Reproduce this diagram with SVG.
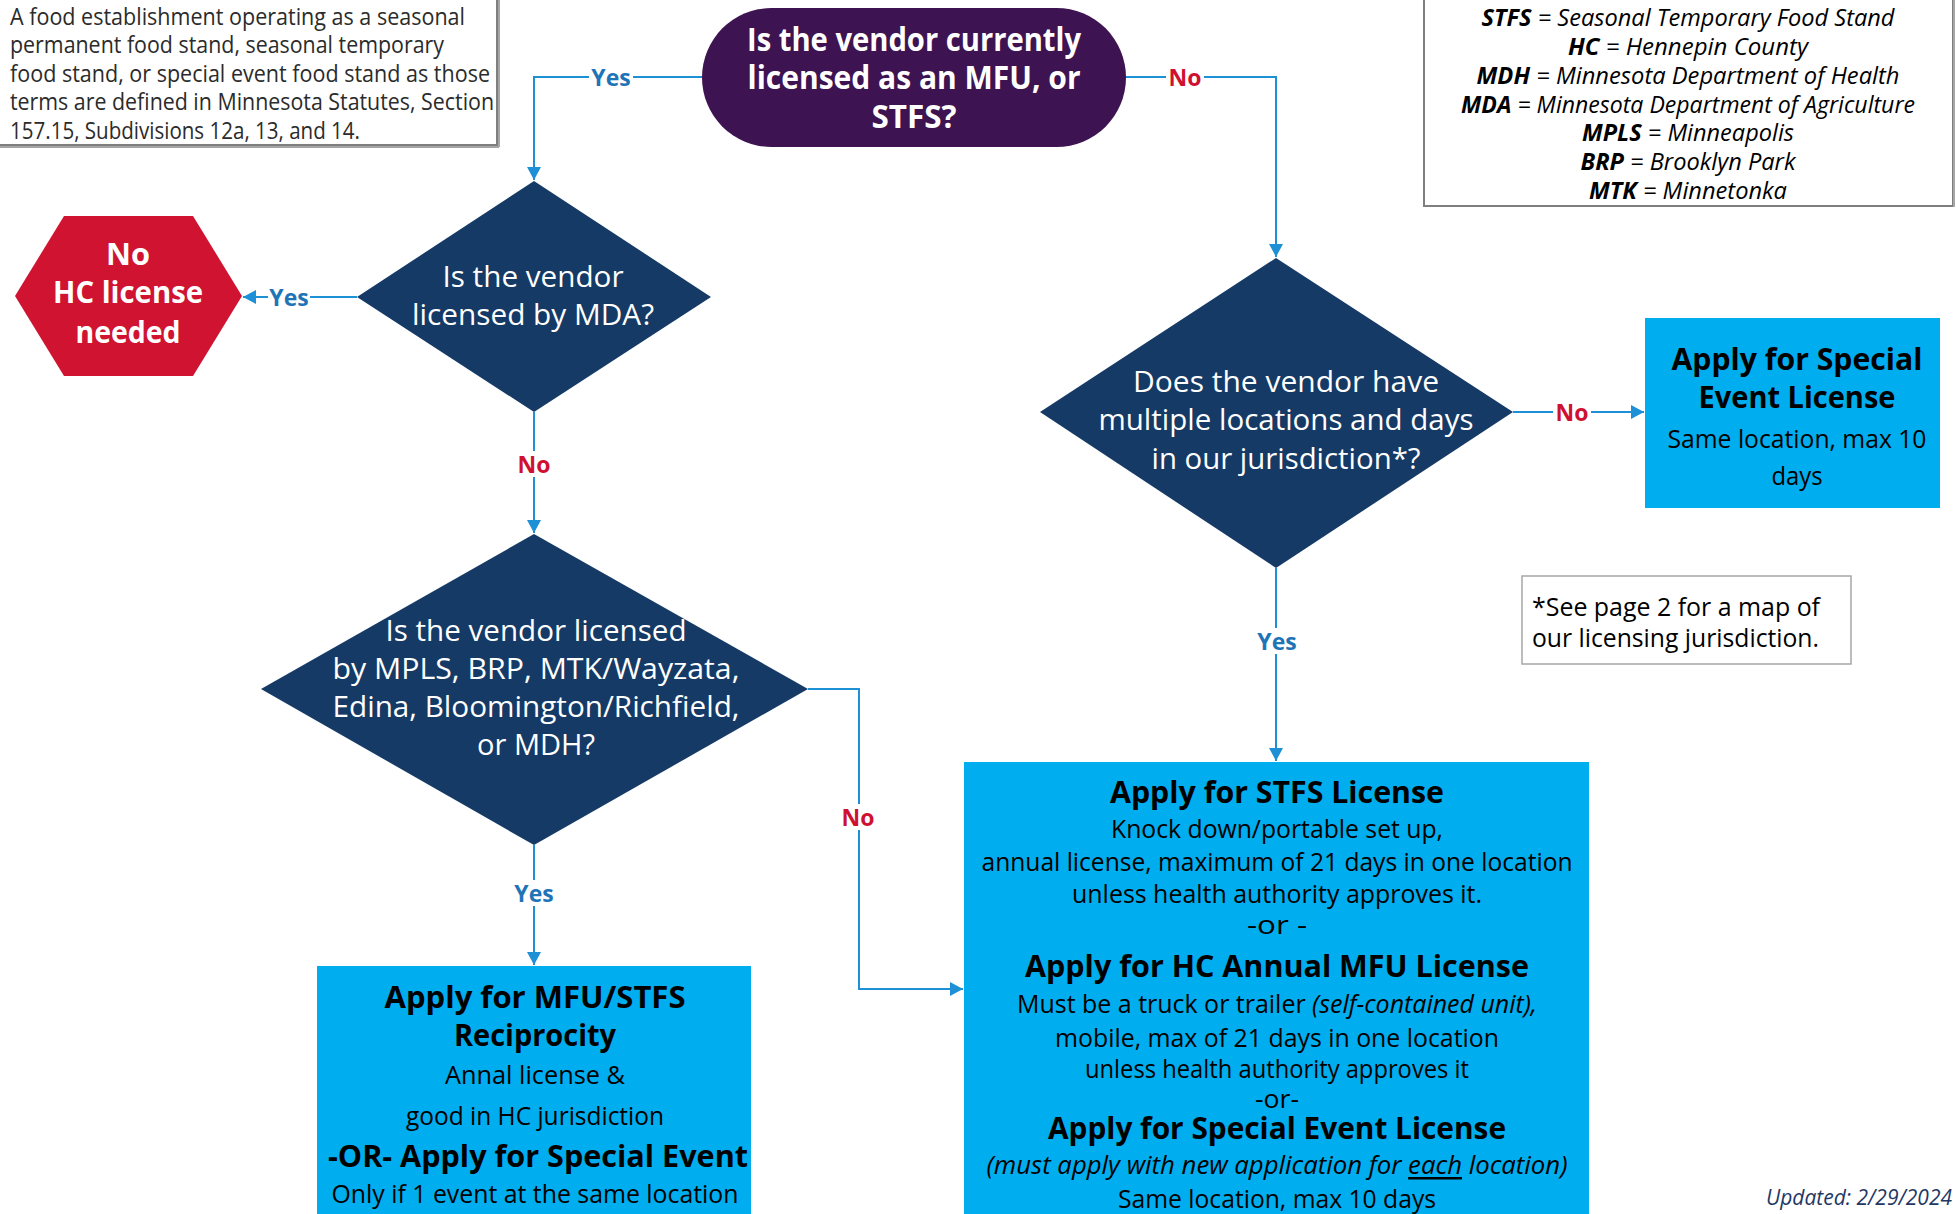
<svg xmlns="http://www.w3.org/2000/svg" width="1956" height="1214" viewBox="0 0 1956 1214">
<defs>
<marker id="ah" markerUnits="userSpaceOnUse" markerWidth="14" markerHeight="14" refX="13" refY="7" orient="auto">
<path d="M0,0 L13,7 L0,14 z" fill="#1e90d5"/>
</marker>
<style>
text{font-family:"Open Sans","Noto Sans","Liberation Sans",sans-serif;dominant-baseline:central}
.note{font-size:24px;fill:#2b2b2b}
.pill{font-size:32px;font-weight:700;fill:#fff;text-anchor:middle}
.dq{font-size:30px;fill:#fff;text-anchor:middle}
.hx{font-size:31px;font-weight:700;fill:#fff;text-anchor:middle}
.bt{font-size:31px;font-weight:700;fill:#000;text-anchor:middle}
.bb{font-size:25px;fill:#000;text-anchor:middle}
.lg{font-size:23px;font-style:italic;fill:#000;text-anchor:middle}
.lg .ab{font-weight:700}
.fn{font-size:25px;fill:#000}
.yes{font-size:23px;font-weight:700;fill:#1f74b8;text-anchor:middle}
.no{font-size:23px;font-weight:700;fill:#cf1030;text-anchor:middle}
.conn path{fill:none;stroke:#1e90d5;stroke-width:2;marker-end:url(#ah)}
.lblbg{fill:#fff}
.diamond{fill:#153a66}
.box{fill:#00adee}
</style>
</defs>
<rect x="0" y="0" width="1956" height="1214" fill="#fff"/>

<!-- note box -->
<g id="note">
<rect x="-3" y="-3" width="500" height="148" fill="#fff" stroke="#7f7f7f" stroke-width="2"/>
<line x1="499" y1="0" x2="499" y2="147" stroke="#a6a6a6" stroke-width="2"/>
<line x1="0" y1="147" x2="499" y2="147" stroke="#a6a6a6" stroke-width="2"/>
<text class="note" x="10" y="15" textLength="455" lengthAdjust="spacingAndGlyphs">A food establishment operating as a seasonal</text>
<text class="note" x="10" y="43.5" textLength="434" lengthAdjust="spacingAndGlyphs">permanent food stand, seasonal temporary</text>
<text class="note" x="10" y="72" textLength="480" lengthAdjust="spacingAndGlyphs">food stand, or special event food stand as those</text>
<text class="note" x="10" y="100.5" textLength="484" lengthAdjust="spacingAndGlyphs">terms are defined in Minnesota Statutes, Section</text>
<text class="note" x="10" y="129" textLength="350" lengthAdjust="spacingAndGlyphs">157.15, Subdivisions 12a, 13, and 14.</text>
</g>

<!-- legend -->
<g id="legend">
<rect x="1424" y="-3" width="529" height="209" fill="#fff" stroke="#7f7f7f" stroke-width="2"/>
<line x1="1954" y1="0" x2="1954" y2="207" stroke="#a6a6a6" stroke-width="2"/>
<text class="lg" x="1688" y="17" textLength="413" lengthAdjust="spacingAndGlyphs"><tspan class="ab">STFS</tspan> = Seasonal Temporary Food Stand</text>
<text class="lg" x="1688" y="46" textLength="240" lengthAdjust="spacingAndGlyphs"><tspan class="ab">HC</tspan> = Hennepin County</text>
<text class="lg" x="1688" y="75" textLength="423" lengthAdjust="spacingAndGlyphs"><tspan class="ab">MDH</tspan> = Minnesota Department of Health</text>
<text class="lg" x="1688" y="104" textLength="454" lengthAdjust="spacingAndGlyphs"><tspan class="ab">MDA</tspan> = Minnesota Department of Agriculture</text>
<text class="lg" x="1688" y="132" textLength="212" lengthAdjust="spacingAndGlyphs"><tspan class="ab">MPLS</tspan> = Minneapolis</text>
<text class="lg" x="1688" y="161" textLength="215" lengthAdjust="spacingAndGlyphs"><tspan class="ab">BRP</tspan> = Brooklyn Park</text>
<text class="lg" x="1688" y="190" textLength="198" lengthAdjust="spacingAndGlyphs"><tspan class="ab">MTK</tspan> = Minnetonka</text>
</g>

<!-- connectors -->
<g id="connectors" class="conn">
<path d="M702,77 H534 V180"/>
<path d="M1126,77 H1276 V257"/>
<path d="M357,297 H243"/>
<path d="M534,412 V533"/>
<path d="M808,689 H859 V989 H963"/>
<path d="M534,845 V965"/>
<path d="M1513,412 H1644"/>
<path d="M1276,568 V761"/>
</g>

<!-- connector labels -->
<g id="labels">
<rect class="lblbg" x="589" y="64" width="44" height="26"/>
<text class="yes" x="611" y="77">Yes</text>
<rect class="lblbg" x="1166" y="64" width="38" height="26"/>
<text class="no" x="1185" y="77">No</text>
<rect class="lblbg" x="268" y="284" width="42" height="26"/>
<text class="yes" x="289" y="297">Yes</text>
<rect class="lblbg" x="515" y="451" width="38" height="26"/>
<text class="no" x="534" y="464">No</text>
<rect class="lblbg" x="839" y="804" width="38" height="26"/>
<text class="no" x="858" y="817">No</text>
<rect class="lblbg" x="512" y="880" width="44" height="26"/>
<text class="yes" x="534" y="893">Yes</text>
<rect class="lblbg" x="1553" y="399" width="38" height="26"/>
<text class="no" x="1572" y="412">No</text>
<rect class="lblbg" x="1255" y="628" width="44" height="26"/>
<text class="yes" x="1277" y="641">Yes</text>
</g>

<!-- start pill -->
<g id="start">
<rect x="702" y="8" width="424" height="139" rx="69.5" ry="69.5" fill="#3d1451"/>
<text class="pill" x="914" y="38" textLength="334" lengthAdjust="spacingAndGlyphs">Is the vendor currently</text>
<text class="pill" x="914" y="76.5" textLength="333" lengthAdjust="spacingAndGlyphs">licensed as an MFU, or</text>
<text class="pill" x="914" y="115" textLength="85" lengthAdjust="spacingAndGlyphs">STFS?</text>
</g>

<!-- diamond MDA -->
<g id="q-mda">
<polygon class="diamond" points="534,181 711,297 534,412 357,297"/>
<text class="dq" x="533" y="275" textLength="181" lengthAdjust="spacingAndGlyphs">Is the vendor</text>
<text class="dq" x="533" y="313" textLength="242" lengthAdjust="spacingAndGlyphs">licensed by MDA?</text>
</g>

<!-- hexagon -->
<g id="no-license">
<polygon points="15,296 64,216 193,216 242,296 193,376 64,376" fill="#cf1331"/>
<text class="hx" x="128" y="253" textLength="44" lengthAdjust="spacingAndGlyphs">No</text>
<text class="hx" x="128" y="291" textLength="150" lengthAdjust="spacingAndGlyphs">HC license</text>
<text class="hx" x="128" y="331" textLength="105" lengthAdjust="spacingAndGlyphs">needed</text>
</g>

<!-- diamond local -->
<g id="q-local">
<polygon class="diamond" points="534,534 808,689 534,845 261,689"/>
<text class="dq" x="536" y="629" textLength="301" lengthAdjust="spacingAndGlyphs">Is the vendor licensed</text>
<text class="dq" x="536" y="667" textLength="407" lengthAdjust="spacingAndGlyphs">by MPLS, BRP, MTK/Wayzata,</text>
<text class="dq" x="536" y="705" textLength="407" lengthAdjust="spacingAndGlyphs">Edina, Bloomington/Richfield,</text>
<text class="dq" x="536" y="743" textLength="118" lengthAdjust="spacingAndGlyphs">or MDH?</text>
</g>

<!-- diamond multiple -->
<g id="q-multiple">
<polygon class="diamond" points="1276,258 1513,412 1276,568 1040,412"/>
<text class="dq" x="1286" y="380" textLength="306" lengthAdjust="spacingAndGlyphs">Does the vendor have</text>
<text class="dq" x="1286" y="418" textLength="375" lengthAdjust="spacingAndGlyphs">multiple locations and days</text>
<text class="dq" x="1286" y="457" textLength="269" lengthAdjust="spacingAndGlyphs">in our jurisdiction*?</text>
</g>

<!-- right box -->
<g id="special-event">
<rect class="box" x="1645" y="318" width="295" height="190"/>
<text class="bt" x="1797" y="358" textLength="251" lengthAdjust="spacingAndGlyphs">Apply for Special</text>
<text class="bt" x="1797" y="396" textLength="197" lengthAdjust="spacingAndGlyphs">Event License</text>
<text class="bb" x="1797" y="438" textLength="259" lengthAdjust="spacingAndGlyphs">Same location, max 10</text>
<text class="bb" x="1797" y="475" textLength="51" lengthAdjust="spacingAndGlyphs">days</text>
</g>

<!-- footnote -->
<g id="footnote">
<rect x="1522" y="576" width="329" height="88" fill="#fff" stroke="#a6a6a6" stroke-width="1.5"/>
<text class="fn" x="1532" y="606" textLength="288" lengthAdjust="spacingAndGlyphs">*See page 2 for a map of</text>
<text class="fn" x="1532" y="637" textLength="287" lengthAdjust="spacingAndGlyphs">our licensing jurisdiction.</text>
</g>

<!-- reciprocity box -->
<g id="reciprocity">
<rect class="box" x="317" y="966" width="434" height="260"/>
<text class="bt" x="535" y="996" textLength="301" lengthAdjust="spacingAndGlyphs">Apply for MFU/STFS</text>
<text class="bt" x="535" y="1034" textLength="162" lengthAdjust="spacingAndGlyphs">Reciprocity</text>
<text class="bb" x="535" y="1074" textLength="180" lengthAdjust="spacingAndGlyphs">Annal license &amp;</text>
<text class="bb" x="535" y="1115" textLength="258" lengthAdjust="spacingAndGlyphs">good in HC jurisdiction</text>
<text class="bt" x="538" y="1155" textLength="420" lengthAdjust="spacingAndGlyphs">-OR- Apply for Special Event</text>
<text class="bb" x="535" y="1193" textLength="407" lengthAdjust="spacingAndGlyphs">Only if 1 event at the same location</text>
</g>

<!-- big box -->
<g id="stfs-mfu">
<rect class="box" x="964" y="762" width="625" height="464"/>
<text class="bt" x="1277" y="791" textLength="334" lengthAdjust="spacingAndGlyphs">Apply for STFS License</text>
<text class="bb" x="1277" y="828" textLength="332" lengthAdjust="spacingAndGlyphs">Knock down/portable set up,</text>
<text class="bb" x="1277" y="861" textLength="591" lengthAdjust="spacingAndGlyphs">annual license, maximum of 21 days in one location</text>
<text class="bb" x="1277" y="893" textLength="410" lengthAdjust="spacingAndGlyphs">unless health authority approves it.</text>
<text class="bb" x="1277" y="924" textLength="60" lengthAdjust="spacingAndGlyphs">-or -</text>
<text class="bt" x="1277" y="965" textLength="504" lengthAdjust="spacingAndGlyphs">Apply for HC Annual MFU License</text>
<text class="bb" x="1277" y="1003" textLength="520" lengthAdjust="spacingAndGlyphs">Must be a truck or trailer <tspan font-style="italic">(self-contained unit),</tspan></text>
<text class="bb" x="1277" y="1037" textLength="444" lengthAdjust="spacingAndGlyphs">mobile, max of 21 days in one location</text>
<text class="bb" x="1277" y="1068" textLength="384" lengthAdjust="spacingAndGlyphs">unless health authority approves it</text>
<text class="bb" x="1277" y="1098" textLength="44" lengthAdjust="spacingAndGlyphs">-or-</text>
<text class="bt" x="1277" y="1127" textLength="458" lengthAdjust="spacingAndGlyphs">Apply for Special Event License</text>
<text class="bb" x="1277" y="1164" font-style="italic" textLength="581" lengthAdjust="spacingAndGlyphs">(must apply with new application for <tspan text-decoration="underline">each</tspan> location)</text>
<text class="bb" x="1277" y="1198" textLength="318" lengthAdjust="spacingAndGlyphs">Same location, max 10 days</text>
</g>

<text id="updated" x="1952" y="1197" font-size="21" font-style="italic" fill="#1f3864" text-anchor="end" textLength="186" lengthAdjust="spacingAndGlyphs">Updated: 2/29/2024</text>
</svg>
